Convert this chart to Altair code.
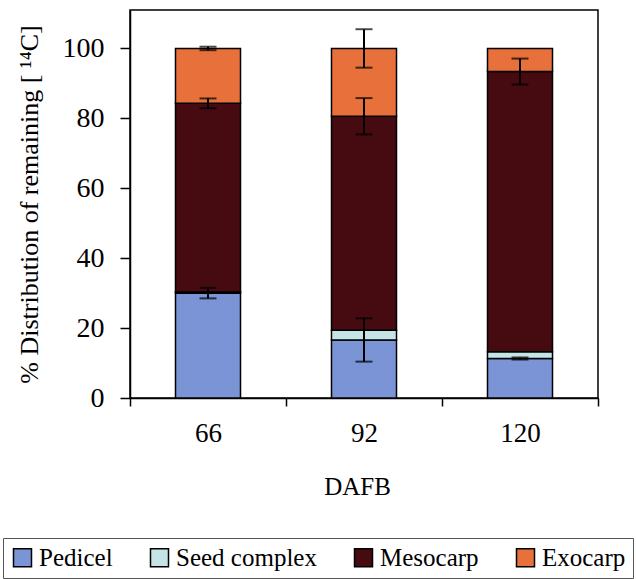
import altair as alt
import pandas as pd

# Days after full bloom
dafb = ["66", "92", "120"]

# Share of remaining 14C in each fruit part (%)
pedicel = [30.0, 16.6, 11.3]
seed_complex = [0.3, 2.8, 1.9]
mesocarp = [54.0, 61.2, 80.2]
exocarp = [15.7, 19.4, 6.6]

# Standard errors of the cumulative values
pedicel_err = [1.5, 6.2, 0.3]
seed_err = [0.0, 0.0, 0.0]
mesocarp_err = [1.4, 5.2, 3.7]
exocarp_err = [0.5, 5.5, 0.0]

parts = ["Pedicel", "Seed complex", "Mesocarp", "Exocarp"]
colors = ["#7b94d6", "#c4e4e6", "#450b10", "#e8703a"]

FONT = "Liberation Serif"

values = [pedicel, seed_complex, mesocarp, exocarp]
errors = [pedicel_err, seed_err, mesocarp_err, exocarp_err]

rows = []
for i, d in enumerate(dafb):
    top = 0.0
    for k, part in enumerate(parts):
        top += values[k][i]
        rows.append({
            "DAFB": d,
            "part": part,
            "order": k,
            "value": values[k][i],
            "top": top,
            "lo": top - errors[k][i],
            "hi": top + errors[k][i],
            "err": errors[k][i],
        })
df = pd.DataFrame(rows)

x_enc = alt.X(
    "DAFB:N",
    sort=dafb,
    title="DAFB",
    scale=alt.Scale(paddingInner=0, paddingOuter=0),
    axis=alt.Axis(
        labelAngle=0,
        tickBand="extent",
        tickSize=8,
        labelPadding=14,
        titlePadding=28,
        titleX=227,
        labelFont=FONT,
        titleFont=FONT,
        labelFontSize=27,
        titleFontSize=25,
    ),
)

bars = alt.Chart(df).mark_bar(size=65, stroke="black", strokeWidth=1.5).encode(
    x=x_enc,
    y=alt.Y(
        "value:Q",
        stack="zero",
        title="% Distribution of remaining [ \u00b9\u2074C]",
        scale=alt.Scale(domain=[0, 111], nice=False),
        axis=alt.Axis(values=[0, 20, 40, 60, 80, 100], tickSize=10,
                      labelPadding=16, titlePadding=20, grid=False,
                      labelFont=FONT, titleFont=FONT,
                      labelFontSize=28, titleFontSize=26),
    ),
    color=alt.Color(
        "part:N",
        sort=parts,
        scale=alt.Scale(domain=parts, range=colors),
        legend=alt.Legend(
            title=None,
            orient="none",
            legendX=-127,
            legendY=528,
            direction="horizontal",
            columns=4,
            symbolType="square",
            symbolSize=324,
            symbolStrokeColor="black",
            symbolStrokeWidth=1.5,
            symbolOpacity=1,
            labelFont=FONT,
            labelFontSize=25,
            labelColor="black",
            labelOffset=4,
            columnPadding=34,
            padding=7,
            strokeColor="#555555",
            labelLimit=300,
        ),
    ),
    order=alt.Order("order:Q", sort="ascending"),
)

err_data = alt.Chart(df).transform_filter(alt.datum.err > 0)

err_rule = err_data.mark_rule(color="black", strokeWidth=2).encode(
    x=alt.X("DAFB:N", sort=dafb),
    y="lo:Q",
    y2="hi:Q",
)
err_lo = err_data.mark_tick(color="black", size=17, thickness=2, orient="horizontal").encode(
    x=alt.X("DAFB:N", sort=dafb),
    y="lo:Q",
)
err_hi = err_data.mark_tick(color="black", size=17, thickness=2, orient="horizontal").encode(
    x=alt.X("DAFB:N", sort=dafb),
    y="hi:Q",
)

chart = alt.layer(bars, err_rule, err_lo, err_hi).properties(
    width=468,
    height=388,
    autosize=alt.AutoSizeParams(type="none"),
    padding={"left": 130, "top": 10, "right": 38, "bottom": 181},
    background="white",
).configure(
    font=FONT,
).configure_view(
    stroke="black",
    strokeWidth=1.5,
).configure_axis(
    titleFontWeight="normal",
    labelColor="black",
    titleColor="black",
    domainColor="black",
    tickColor="black",
    domainWidth=1.5,
    tickWidth=1.5,
)

chart.save("out.html", embed_options={"renderer": "svg", "actions": False})
